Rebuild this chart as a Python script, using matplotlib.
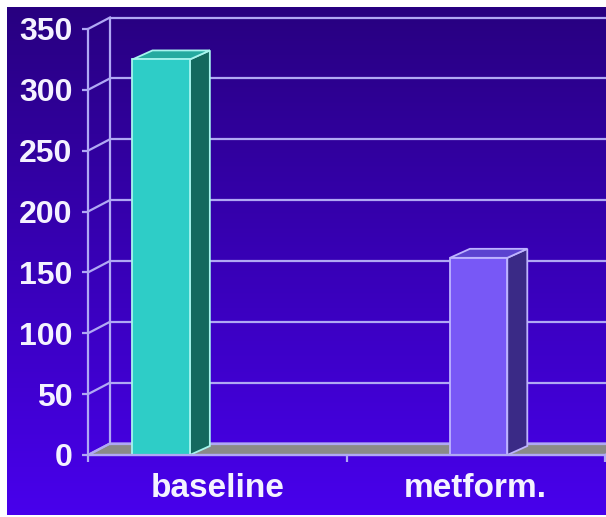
import numpy as np
import matplotlib
matplotlib.use("Agg")
import matplotlib.pyplot as plt
from matplotlib.patches import Polygon, Rectangle

# ---- data ----
categories = ["baseline", "metform."]
values = [325, 162]
y_ticks = [0, 50, 100, 150, 200, 250, 300, 350]

# ---- style ----
face_colors = ["#2ECDC7", "#7858F6"]
side_colors = ["#14695F", "#3A2A86"]
top_colors = ["#25AAA0", "#5B43D0"]
edge_colors = ["#A6F4EE", "#BDB3FF"]
bar_shift = [-0.217, 0.011]      # horizontal placement of each column in its slot
bar_width = 0.222
grid_color = "#B0A8F4"
floor_color = "#8A8A88"
text_color = "#F4F2FF"
font = ["Liberation Sans", "DejaVu Sans"]

W, H, DPI = 606, 517, 100
fig = plt.figure(figsize=(W / DPI, H / DPI), dpi=DPI, facecolor="white")

# vertical gradient backdrop
bg = fig.add_axes([7 / W, 2 / H, 1 - 7 / W, (H - 7 - 2) / H])
t = np.linspace(0, 1, 256)[:, None, None]
c_top = np.array([40, 0, 128]) / 255
c_bot = np.array([72, 0, 236]) / 255
bg.imshow(c_top + (c_bot - c_top) * t, aspect="auto", extent=[0, 1, 0, 1], origin="upper")
bg.set_axis_off()

# front plane of the plot
ax = fig.add_axes([88 / W, (H - 455) / H, (605 - 88) / W, (455 - 29) / H])
ax.set_xlim(0, len(categories))
ax.set_ylim(0, 350)
ax.patch.set_alpha(0)


def depth(px_x, px_y):
    """Convert a pixel offset into data-unit offsets."""
    p0 = ax.transData.transform((0, 0))
    d = ax.transData.inverted().transform((p0[0] + px_x, p0[1] + px_y))
    return d[0], d[1]


wx, wy = depth(22, 11.5)   # depth of the walls / floor
bx, by = depth(20, 9)      # depth of the columns
xmax = len(categories)
lw = 1.6

# floor
ax.add_patch(Polygon([(0, 0), (xmax, 0), (xmax + wx, wy), (wx, wy)], closed=True,
                     facecolor=floor_color, edgecolor=grid_color, lw=lw,
                     clip_on=False, zorder=1))

# back wall grid and side-wall diagonals
for v in y_ticks:
    ax.plot([wx, xmax + wx], [v + wy, v + wy], color=grid_color, lw=lw,
            clip_on=False, zorder=2, solid_capstyle="butt")
    ax.plot([0, wx], [v, v + wy], color=grid_color, lw=lw, clip_on=False, zorder=2)
ax.plot([wx, wx], [wy, y_ticks[-1] + wy], color=grid_color, lw=lw, clip_on=False, zorder=2)

# columns
for i, v in enumerate(values):
    xc = i + 0.5 + bar_shift[i]
    x0, x1 = xc - bar_width / 2, xc + bar_width / 2
    ax.add_patch(Polygon([(x1, 0), (x1 + bx, by), (x1 + bx, v + by), (x1, v)], closed=True,
                         facecolor=side_colors[i], edgecolor=edge_colors[i], lw=1.3,
                         clip_on=False, zorder=4))
    ax.add_patch(Polygon([(x0, v), (x1, v), (x1 + bx, v + by), (x0 + bx, v + by)], closed=True,
                         facecolor=top_colors[i], edgecolor=edge_colors[i], lw=1.3,
                         clip_on=False, zorder=4))
    ax.add_patch(Rectangle((x0, 0), x1 - x0, v, facecolor=face_colors[i],
                           edgecolor=edge_colors[i], lw=1.3, clip_on=False, zorder=5))

# axes lines and ticks
for side in ["top", "right"]:
    ax.spines[side].set_visible(False)
for side in ["left", "bottom"]:
    ax.spines[side].set_color(grid_color)
    ax.spines[side].set_linewidth(lw)
    ax.spines[side].set_zorder(6)

ax.set_yticks(y_ticks)
ax.set_yticklabels([str(v) for v in y_ticks])
ax.tick_params(axis="y", length=4, width=lw, color=grid_color, pad=7,
               labelsize=23, labelcolor=text_color)

ax.set_xticks(range(xmax + 1))
ax.set_xticklabels([])
ax.set_xticks([i + 0.5 for i in range(xmax)], minor=True)
ax.set_xticklabels(categories, minor=True)
ax.tick_params(axis="x", which="major", length=5, width=lw, color=grid_color)
ax.tick_params(axis="x", which="minor", length=0, pad=13, labelsize=24,
               labelcolor=text_color)

for lab in ax.get_yticklabels() + ax.get_xticklabels(minor=True):
    lab.set_fontfamily(font)
    lab.set_fontweight("bold")

fig.savefig("out.png", dpi=DPI, facecolor="white")
